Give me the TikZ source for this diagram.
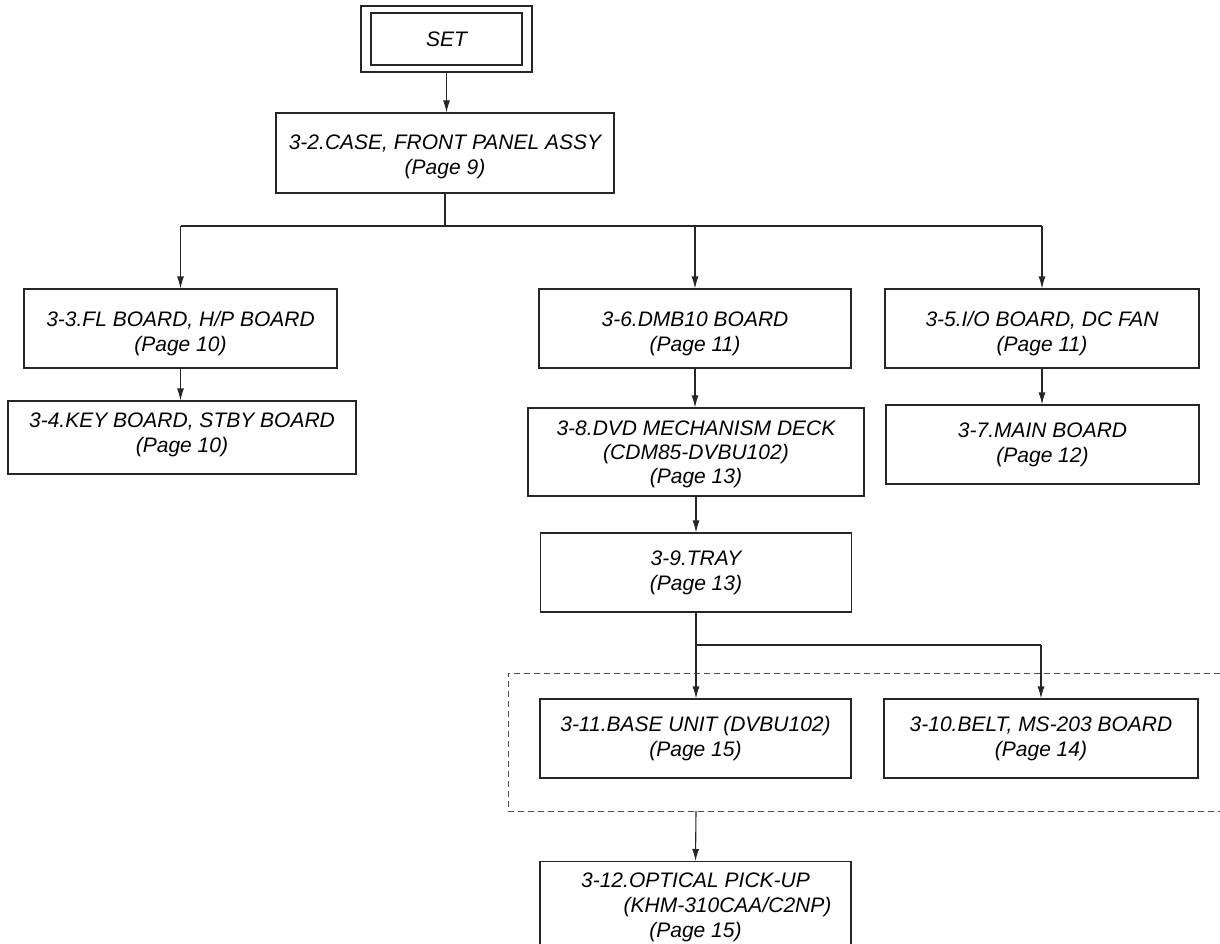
\documentclass[tikz,border=0pt]{standalone}
\usepackage{fontspec}
\setmainfont{Liberation Sans}
\usetikzlibrary{arrows.meta}
\begin{document}
\begin{tikzpicture}[x=1pt,y=-1pt,
  box/.style={draw=black!85, line width=1.1pt, inner sep=0pt},
  txt/.style={inner sep=0pt, align=center, font=\fontsize{21}{25}\selectfont\itshape},
  conn/.style={draw=black!85, line width=1.1pt},
  arr/.style={conn, -{Latex[length=12pt,width=7pt]}},
  dash box/.style={draw=black!70, line width=1pt, dash pattern=on 6pt off 4pt}]
\useasboundingbox (0,0) rectangle (1220,944);
\clip (0,0) rectangle (1220,944);

% boxes
\node[box, minimum width=171pt, minimum height=66pt] (set) at (446.5,39) {};
\node[box, minimum width=151pt, minimum height=52pt] (setin) at (446.5,39) {};
\node[box, minimum width=338pt, minimum height=80pt] (case) at (445,153) {};
\node[box, minimum width=313pt, minimum height=79pt] (fl) at (180.5,328.5) {};
\node[box, minimum width=348pt, minimum height=73pt] (key) at (182,437.5) {};
\node[box, minimum width=312pt, minimum height=79pt] (dmb) at (695,328.5) {};
\node[box, minimum width=314pt, minimum height=79pt] (io) at (1042,328.5) {};
\node[box, minimum width=313pt, minimum height=79pt] (main) at (1042.5,444.5) {};
\node[box, minimum width=336pt, minimum height=88pt] (dvd) at (696,452) {};
\node[box, minimum width=311pt, minimum height=79pt] (tray) at (696,572.5) {};
\node[box, minimum width=311pt, minimum height=79pt] (base) at (695.5,738.5) {};
\node[box, minimum width=314pt, minimum height=79pt] (belt) at (1041,738.5) {};
\node[box, anchor=north, minimum width=311pt, minimum height=160pt] (opt) at (695.5,861) {};

% texts
\node[txt] (sett) at (setin.center) {SET};
\node[txt, yshift=-4pt] (caset) at (case.center) {3-2.CASE, FRONT PANEL ASSY\\(Page 9)};
\node[txt, yshift=-5pt] (flt) at (fl.center) {3-3.FL BOARD, H/P BOARD\\(Page 10)};
\node[txt, yshift=3pt] (keyt) at (key.center) {3-4.KEY BOARD, STBY BOARD\\(Page 10)};
\node[txt, yshift=-5pt] (dmbt) at (dmb.center) {3-6.DMB10 BOARD\\(Page 11)};
\node[txt, yshift=-5pt] (iot) at (io.center) {3-5.I/O BOARD, DC FAN\\(Page 11)};
\node[txt] (maint) at (main.center) {3-7.MAIN BOARD\\(Page 12)};
\node[txt, yshift=-2pt, font=\fontsize{21}{24}\selectfont\itshape] (dvdt) at (dvd.center) {3-8.DVD MECHANISM DECK\\(CDM85-DVBU102)\\(Page 13)};
\node[txt] (trayt) at (tray.center) {3-9.TRAY\\(Page 13)};
\node[txt] (baset) at (base.center) {3-11.BASE UNIT (DVBU102)\\(Page 15)};
\node[txt] (beltt) at (belt.center) {3-10.BELT, MS-203 BOARD\\(Page 14)};
\node[txt] (optt) at (695.5,907) {3-12.OPTICAL PICK-UP\\\hspace*{64pt}(KHM-310CAA/C2NP)\\(Page 15)};

% dashed group frame
\draw[dash box] (1230,673) -- (508,673) -- (508,811) -- (1230,811);
\coordinate (dashb) at (696,811);

% connectors
\coordinate (hl) at (445,226);
\coordinate (br) at (696,645);
\draw[arr] (set.south) -- (set.south |- case.north);
\draw[conn] (case.south) -- (hl);
\draw[conn] (fl.north |- hl) -- (io.north |- hl);
\draw[arr] (fl.north |- hl) -- (fl.north);
\draw[arr] (dmb.north |- hl) -- (dmb.north);
\draw[arr] (io.north |- hl) -- (io.north);
\draw[arr] (fl.south) -- (fl.south |- key.north);
\draw[arr] (dmb.south) -- (dmb.south |- dvd.north);
\draw[arr] (dvd.south) -- (dvd.south |- tray.north);
\draw[arr] (io.south) -- (io.south |- main.north);
\draw[arr] (tray.south) -- (tray.south |- base.north);
\draw[conn] (br) -- (belt.north |- br);
\draw[arr] (belt.north |- br) -- (belt.north);
\draw[arr] (dashb) -- (opt.north);
\end{tikzpicture}
\end{document}
